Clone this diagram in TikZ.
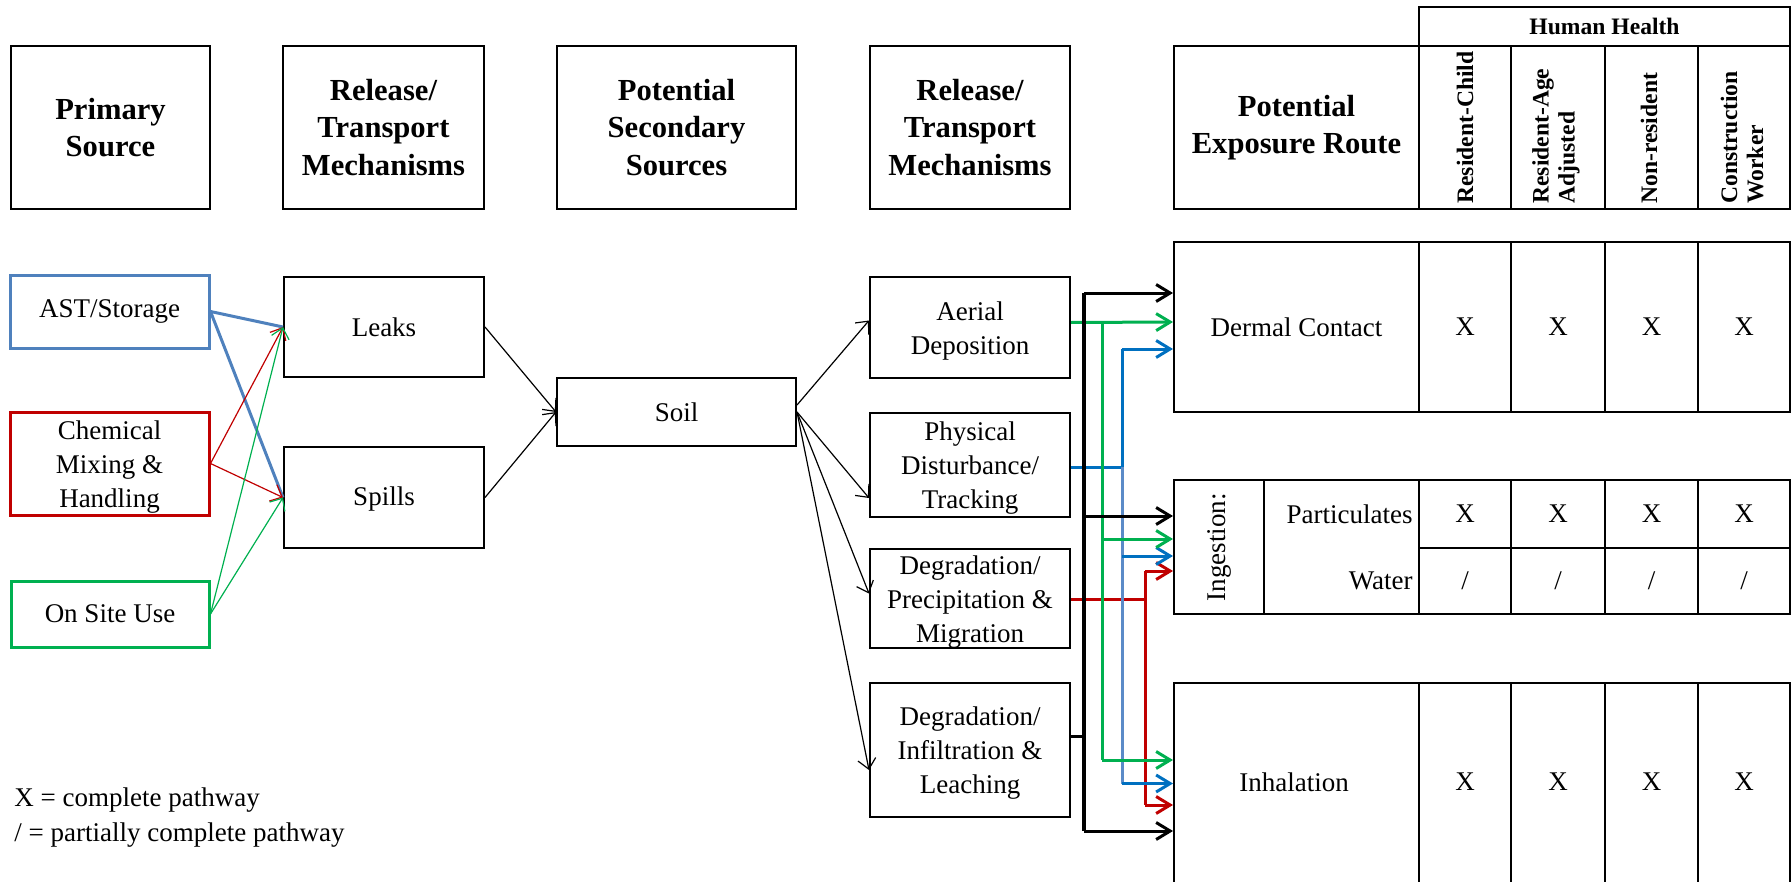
\documentclass[tikz,border=0pt]{standalone}
\usepackage{fontspec}
\setmainfont{Liberation Serif}
\usetikzlibrary{arrows.meta,calc}
\definecolor{cblue}{HTML}{4F81BD}
\definecolor{lblue}{HTML}{0070C0}
\definecolor{lbluelow}{HTML}{5B8BC8}
\definecolor{cred}{HTML}{C00000}
\definecolor{cgreen}{HTML}{00B050}
\newcommand\fnorm{\fontsize{13.5}{17}\selectfont}
\newcommand\fhead{\fontsize{15.3}{18.8}\selectfont\bfseries}
\newcommand\fcol{\fontsize{11.8}{13}\selectfont\bfseries}
\newcommand\tstrut{\rule{0pt}{12.8pt}}
\begin{document}
\begin{tikzpicture}[x=0.5pt,y=-0.5pt,
  box/.style={draw, line width=1pt, inner sep=0pt, align=center, font=\fnorm},
  hbox/.style={box, font=\fhead},
  srcbox/.style={box, line width=1.5pt},
  colhead/.style={rotate=90, anchor=west, align=left, font=\fcol, inner sep=0pt},
  txt/.style={font=\fnorm, inner sep=0pt},
  thinarr/.style={line width=0.6pt, -{Straight Barb[length=5pt,width=9pt]}},
  cline/.style={line width=1.5pt},
  rarr/.style={line width=1.5pt, -{Straight Barb[length=7pt,width=8.5pt]}},
  bline/.style={line width=2.2pt, black},
  barr/.style={rarr, black},
]
\useasboundingbox (0,0) rectangle (1791,882);

% ---------------- headers ----------------
\node[hbox, minimum width=99.5pt, minimum height=81.5pt] (hPS) at (110.5,127.5) {Primary\\Source};
\node[hbox, minimum width=100.5pt, minimum height=81.5pt] (hRT1) at (383.5,127.5) {Release/\\Transport\\Mechanisms};
\node[hbox, minimum width=119.5pt, minimum height=81.5pt] (hPSS) at (676.5,127.5) {Potential\\Secondary\\Sources};
\node[hbox, minimum width=100pt, minimum height=81.5pt] (hRT2) at (970,127.5) {Release/\\Transport\\Mechanisms};
\node[hbox, minimum width=122.5pt, minimum height=81.5pt] (hPER) at (1296.5,127.5) {Potential\\Exposure Route};
\node[box, minimum width=46pt, minimum height=81.5pt] (hC1) at (1465,127.5) {};
\node[box, minimum width=47pt, minimum height=81.5pt] (hC2) at (1558,127.5) {};
\node[box, minimum width=46.5pt, minimum height=81.5pt] (hC3) at (1651.5,127.5) {};
\node[box, minimum width=46pt, minimum height=81.5pt] (hC4) at (1744,127.5) {};
\node[box, font=\fcol, minimum width=185.5pt, minimum height=19.5pt] (hHH) at (1604.5,26.5) {Human Health};
\node[colhead] (tC1) at (1465,204) {Resident-Child};
\node[colhead] (tC2) at (1556,204) {Resident-Age\\Adjusted};
\node[colhead] (tC3) at (1649,204) {Non-resident};
\node[colhead] (tC4) at (1742,204) {Construction\\Worker};

% ---------------- sources ----------------
\node[srcbox, draw=cblue, minimum width=99.5pt, minimum height=36.5pt] (ast) at (109.5,311.5) {AST/Storage};
\node[srcbox, draw=cred, minimum width=99.5pt, minimum height=51.5pt] (chem) at (109.5,463.5) {\tstrut Chemical\\Mixing \&\\Handling};
\node[srcbox, draw=cgreen, minimum width=99pt, minimum height=33pt] (onsite) at (110,614) {On Site Use};

\node[box, minimum width=100pt, minimum height=50pt] (leaks) at (384,327) {Leaks};
\node[box, minimum width=100pt, minimum height=50.5pt] (spills) at (384,497.5) {\rule{0pt}{11pt}Spills};
\node[box, minimum width=119.5pt, minimum height=34pt] (soil) at (676.5,412) {Soil};

\node[box, minimum width=100pt, minimum height=50.5pt] (aer) at (970,327.5) {\tstrut Aerial\\Deposition};
\node[box, minimum width=100pt, minimum height=52pt] (phys) at (970,465) {\tstrut Physical\\Disturbance/\\Tracking};
\node[box, minimum width=100pt, minimum height=49.5pt] (prec) at (970,598.5) {\tstrut Degradation/\\Precipitation \&\\Migration};
\node[box, minimum width=100pt, minimum height=67pt] (inf) at (970,750) {\tstrut Degradation/\\Infiltration \&\\Leaching};

% ---------------- right table ----------------
\node[box, minimum width=122.5pt, minimum height=85pt] (derm) at (1296.5,327) {Dermal Contact};
\node[box, minimum width=46pt, minimum height=85pt] (d1) at (1465,327) {X};
\node[box, minimum width=47pt, minimum height=85pt] (d2) at (1558,327) {X};
\node[box, minimum width=46.5pt, minimum height=85pt] (d3) at (1651.5,327) {X};
\node[box, minimum width=46pt, minimum height=85pt] (d4) at (1744,327) {X};

\node[box, minimum width=45pt, minimum height=67pt] (ingL) at (1219,547) {};
\node[txt, rotate=90] (ingT) at (ingL.center) {Ingestion:};
\node[box, minimum width=77.5pt, minimum height=67pt] (ingS) at (1341.5,547) {};
\node[txt, anchor=east] (part) at (1413,514) {Particulates};
\node[txt, anchor=east] (wat) at (1413,581) {Water};
\node[box, minimum width=46pt, minimum height=34pt] (p1) at (1465,514) {X};
\node[box, minimum width=47pt, minimum height=34pt] (p2) at (1558,514) {X};
\node[box, minimum width=46.5pt, minimum height=34pt] (p3) at (1651.5,514) {X};
\node[box, minimum width=46pt, minimum height=34pt] (p4) at (1744,514) {X};
\node[box, minimum width=46pt, minimum height=33pt] (w1) at (1465,581) {/};
\node[box, minimum width=47pt, minimum height=33pt] (w2) at (1558,581) {/};
\node[box, minimum width=46.5pt, minimum height=33pt] (w3) at (1651.5,581) {/};
\node[box, minimum width=46pt, minimum height=33pt] (w4) at (1744,581) {/};

\node[box, minimum width=122.5pt, minimum height=100.5pt] (inh) at (1296.5,783.5) {};
\node[txt] (inhT) at (1294,782) {Inhalation};
\node[box, minimum width=46pt, minimum height=100.5pt] (i1) at (1465,783.5) {};
\node[box, minimum width=47pt, minimum height=100.5pt] (i2) at (1558,783.5) {};
\node[box, minimum width=46.5pt, minimum height=100.5pt] (i3) at (1651.5,783.5) {};
\node[box, minimum width=46pt, minimum height=100.5pt] (i4) at (1744,783.5) {};
\node[txt] (i1t) at (1465,782) {X};
\node[txt] (i2t) at (1558,782) {X};
\node[txt] (i3t) at (1651.5,782) {X};
\node[txt] (i4t) at (1744,782) {X};

% legend
\node[txt, anchor=west] (leg1) at (14,800) {X = complete pathway};
\node[txt, anchor=west] (leg2) at (14,835) {/ = partially complete pathway};

% ---------------- left connectors ----------------
\draw[cblue, line width=1.5pt] (ast.east) -- (leaks.west);
\draw[cblue, line width=1.5pt] (ast.east) -- (spills.west);
\draw[thinarr, cred] (chem.east) -- (leaks.west);
\draw[thinarr, cred] (chem.east) -- (spills.west);
\draw[thinarr, cgreen] (onsite.east) -- (leaks.west);
\draw[thinarr, cgreen] (onsite.east) -- (spills.west);

\draw[thinarr] (leaks.east) -- (soil.west);
\draw[thinarr] (spills.east) -- (soil.west);
\draw[thinarr] ($(soil.east)+(0,-7)$) -- ($(aer.west)+(0,-7)$);
\draw[thinarr] (soil.east) -- ($(phys.west)+(0,33)$);
\draw[thinarr] (soil.east) -- ($(prec.west)+(0,-5)$);
\draw[thinarr] (soil.east) -- ($(inf.west)+(0,20)$);

% ---------------- right connectors ----------------
\coordinate (bT) at (1084,0);
\coordinate (gT) at (1102,0);
\coordinate (lT) at (1122,0);
\coordinate (rT) at (1145,0);

\coordinate (bD) at ($(derm.west)+(0,-34)$);
\coordinate (gD) at ($(derm.west)+(0,-5)$);
\coordinate (lD) at ($(derm.west)+(0,22)$);
\coordinate (bI) at ($(ingL.west)+(0,-31)$);
\coordinate (gI) at ($(ingL.west)+(0,-8)$);
\coordinate (lI) at ($(ingL.west)+(0,9)$);
\coordinate (rI) at ($(ingL.west)+(0,24)$);
\coordinate (gH) at ($(inh.west)+(0,-23.5)$);
\coordinate (lH) at ($(inh.west)+(0,0)$);
\coordinate (rH) at ($(inh.west)+(0,21.5)$);
\coordinate (bH) at ($(inh.west)+(0,47.5)$);

\coordinate (gS) at ($(aer.east)+(0,-5)$);
\coordinate (lS) at ($(phys.east)+(0,2)$);
\coordinate (rS) at ($(prec.east)+(0,1)$);
\coordinate (bS) at ($(inf.east)+(0,-14)$);

% red
\draw[cred, cline] (rS) -- (rS -| rT);
\draw[cred, cline] (rI -| rT) -- (rH -| rT);
\draw[rarr, cred] (rI -| rT) -- (rI);
\draw[rarr, cred] (rH -| rT) -- (rH);
% blue
\draw[lblue, cline] (lS) -- (lS -| lT);
\draw[lblue, cline] (lD -| lT) -- (lS -| lT);
\draw[lbluelow, cline] (lS -| lT) -- (lH -| lT);
\draw[rarr, lblue] (lD -| lT) -- (lD);
\draw[rarr, lblue] (lI -| lT) -- (lI);
\draw[rarr, lblue] (lH -| lT) -- (lH);
% green
\draw[rarr, cgreen] (gS) -- (gD);
\draw[cgreen, cline] (gS -| gT) -- (gH -| gT);
\draw[rarr, cgreen] (gI -| gT) -- (gI);
\draw[rarr, cgreen] (gH -| gT) -- (gH);
% black
\draw[bline] (bD -| bT) -- (bH -| bT);
\draw[black, cline] (bS) -- (bS -| bT);
\draw[barr] (bD -| bT) -- (bD);
\draw[barr] (bI -| bT) -- (bI);
\draw[barr] (bH -| bT) -- (bH);
\end{tikzpicture}
\end{document}
